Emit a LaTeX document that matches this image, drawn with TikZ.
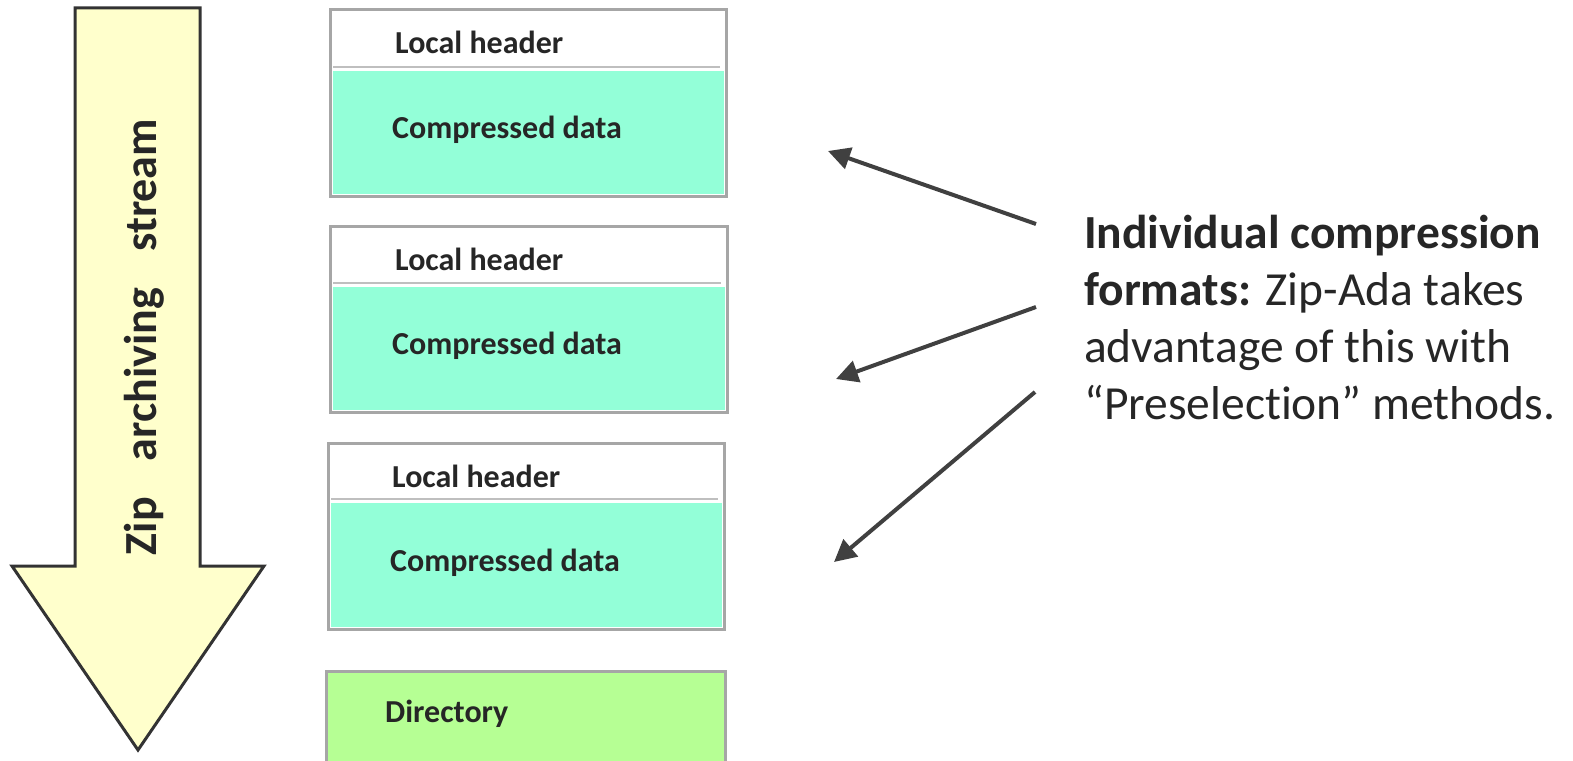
\documentclass[tikz,border=0pt]{standalone}
\usepackage{fontspec}
\setmainfont{Carlito}[Ligatures=NoCommon]
\usetikzlibrary{arrows.meta}
\definecolor{frame}{HTML}{A6A6A6}
\definecolor{sepline}{HTML}{BFBFBF}
\definecolor{teal}{HTML}{93FFD8}
\definecolor{dirgreen}{HTML}{B6FF94}
\definecolor{paleyellow}{HTML}{FFFFCC}
\definecolor{outline}{HTML}{333333}
\definecolor{txt}{HTML}{262626}
\definecolor{arr}{HTML}{404040}
\tikzset{
  boxframe/.style={draw=frame, line width=3pt, fill=white},
  datafill/.style={fill=teal},
  sep/.style={draw=sepline, line width=2pt},
  boxlabel/.style={anchor=base west, inner sep=0pt, text=txt, font=\fontsize{32}{38}\selectfont\bfseries},
  pointer/.style={draw=arr, line width=4pt, -{Triangle[length=22pt,width=22pt]}},
}
\begin{document}
\begin{tikzpicture}[x=1pt,y=-1pt]
\useasboundingbox (0,0) rectangle (1573,760);
\clip (0,0) rectangle (1573,760);

% big yellow arrow
\draw[fill=paleyellow, draw=outline, line width=3pt, line join=miter]
  (75,8) -- (200,8) -- (200,566) -- (264,566) -- (138,750) -- (12,566) -- (75,566) -- cycle;
\node[rotate=90, anchor=base, inner sep=0pt, text=txt, font=\fontsize{46}{54}\selectfont\bfseries]
  (stream) at (156,337) {Zip\hspace{36pt}archiving\hspace{36pt}stream};

% box 1
\draw[boxframe] (330,10) rectangle (726,196);
\fill[datafill] (333,71) rectangle (724,194);
\draw[sep] (333,67) -- (720,67);
\node[boxlabel] (lh1) at (395,54) {Local header};
\node[boxlabel] (cd1) at (392,138) {Compressed data};

% box 2
\draw[boxframe] (330,226) rectangle (727,412);
\fill[datafill] (333,287) rectangle (725,410);
\draw[sep] (333,283) -- (721,283);
\node[boxlabel] (lh2) at (395,270) {Local header};
\node[boxlabel] (cd2) at (392,354) {Compressed data};

% box 3
\draw[boxframe] (328,443) rectangle (724,629);
\fill[datafill] (331,503) rectangle (722,627);
\draw[sep] (331,499) -- (718,499);
\node[boxlabel] (lh3) at (392,487) {Local header};
\node[boxlabel] (cd3) at (390,571) {Compressed data};

% directory
\draw[boxframe, fill=dirgreen] (326,671) rectangle (725,790);
\node[boxlabel] (dir) at (385,722) {Directory};

% explanation text
\node[anchor=north west, inner sep=0pt, align=left, text=txt,
      font=\fontsize{47.5}{57}\selectfont] (expl) at (1084,215)
  {\textbf{Individual compression}\\\textbf{formats:} Zip-Ada takes\\advantage of this with\\“Preselection” methods.};

% pointers
\coordinate (t1) at (1036,224);
\coordinate (h1) at (828,151);
\coordinate (t2) at (1036,307);
\coordinate (h2) at (836,379);
\coordinate (t3) at (1035,392);
\coordinate (h3) at (834,562);
\draw[pointer] (t1) -- (h1);
\draw[pointer] (t2) -- (h2);
\draw[pointer] (t3) -- (h3);
\end{tikzpicture}
\end{document}
